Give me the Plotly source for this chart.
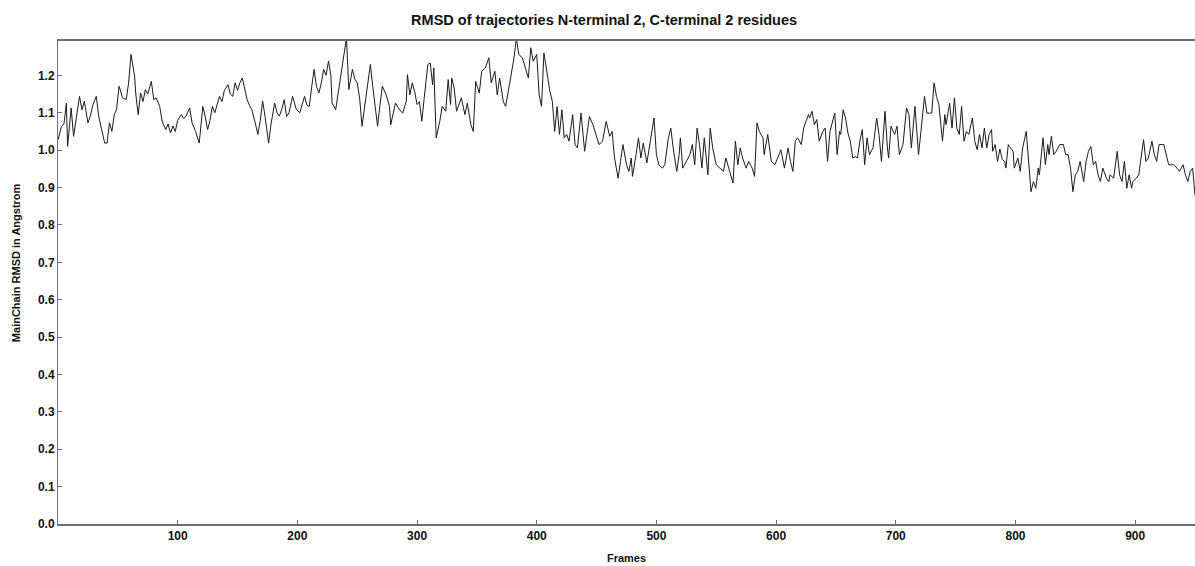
import plotly.graph_objects as go

# Main-chain RMSD per trajectory frame (Angstrom)
frames = [
    0, 2, 3, 5, 7, 8, 11, 13, 15, 18, 20, 22, 25, 27, 29, 32, 34, 37, 39, 41, 43, 45, 47, 49,
    51, 54, 57, 59, 61, 64, 65, 67, 69, 71, 73, 75, 78, 80, 82, 85, 87, 90, 92, 94, 96, 98,
    100, 103, 105, 107, 110, 112, 115, 118, 121, 123, 125, 127, 129, 131, 135, 137, 139, 142,
    144, 146, 148, 150, 152, 154, 156, 158, 160, 162, 165, 167, 169, 171, 173, 176, 178, 181,
    183, 185, 187, 189, 191, 193, 196, 199, 202, 204, 206, 208, 210, 212, 214, 216, 218, 220,
    222, 224, 226, 228, 229, 232, 235, 238, 241, 243, 246, 248, 250, 252, 254, 257, 259, 261,
    263, 265, 267, 269, 271, 274, 277, 278, 280, 282, 285, 288, 291, 292, 294, 296, 298, 300,
    302, 304, 306, 309, 311, 313, 314, 316, 319, 321, 324, 326, 328, 329, 331, 333, 337, 340,
    342, 345, 347, 349, 352, 354, 357, 360, 362, 365, 367, 369, 372, 374, 376, 379, 381, 383,
    385, 388, 391, 393, 395, 397, 400, 402, 404, 406, 408, 411, 413, 415, 417, 419, 421, 423,
    425, 427, 430, 432, 434, 437, 440, 442, 444, 447, 450, 452, 455, 458, 461, 463, 465, 468,
    470, 472, 475, 477, 479, 480, 483, 485, 487, 489, 492, 496, 498, 500, 502, 505, 507, 510,
    512, 514, 517, 519, 520, 522, 525, 528, 530, 532, 534, 536, 538, 540, 543, 545, 547, 550,
    553, 556, 558, 561, 564, 566, 568, 570, 572, 575, 577, 580, 582, 584, 586, 589, 590, 593,
    596, 599, 602, 604, 607, 610, 612, 614, 616, 618, 621, 623, 625, 627, 628, 630, 632, 634,
    636, 639, 641, 643, 645, 647, 649, 651, 653, 654, 656, 658, 660, 662, 664, 666, 668, 670,
    672, 674, 676, 678, 681, 684, 686, 688, 691, 693, 694, 696, 699, 701, 703, 706, 709, 711,
    713, 716, 719, 721, 724, 726, 730, 732, 734, 736, 739, 741, 742, 745, 747, 749, 751, 753,
    755, 757, 759, 761, 764, 766, 768, 770, 772, 774, 776, 778, 780, 781, 783, 785, 787, 789,
    791, 792, 794, 795, 798, 799, 802, 804, 806, 809, 810, 811, 813, 815, 817, 819, 820, 823,
    825, 827, 828, 830, 832, 834, 837, 840, 842, 844, 846, 848, 850, 852, 854, 857, 859, 861,
    863, 865, 867, 869, 871, 873, 876, 878, 879, 882, 885, 887, 889, 891, 893, 895, 897, 898,
    901, 903, 905, 907, 909, 911, 914, 916, 918, 920, 924, 926, 928, 930, 932, 935, 937, 940,
    942, 944, 946, 948, 950,
]

rmsd = [
    1.028, 1.050, 1.064, 1.070, 1.126, 1.010, 1.113, 1.037, 1.080, 1.144, 1.108, 1.131, 1.073,
    1.091, 1.120, 1.144, 1.091, 1.046, 1.019, 1.019, 1.073, 1.050, 1.095, 1.110, 1.171, 1.140,
    1.135, 1.180, 1.256, 1.198, 1.150, 1.095, 1.153, 1.130, 1.162, 1.150, 1.184, 1.135, 1.140,
    1.117, 1.077, 1.055, 1.070, 1.046, 1.065, 1.050, 1.080, 1.095, 1.085, 1.091, 1.113, 1.073,
    1.050, 1.019, 1.117, 1.090, 1.055, 1.080, 1.117, 1.100, 1.144, 1.130, 1.160, 1.175, 1.150,
    1.144, 1.180, 1.160, 1.180, 1.193, 1.160, 1.135, 1.120, 1.108, 1.070, 1.042, 1.080, 1.131,
    1.090, 1.019, 1.070, 1.126, 1.100, 1.091, 1.110, 1.135, 1.090, 1.100, 1.144, 1.110, 1.100,
    1.120, 1.144, 1.120, 1.117, 1.170, 1.216, 1.170, 1.153, 1.180, 1.216, 1.200, 1.238, 1.200,
    1.126, 1.108, 1.171, 1.229, 1.300, 1.162, 1.216, 1.190, 1.180, 1.140, 1.064, 1.135, 1.180,
    1.229, 1.170, 1.117, 1.064, 1.120, 1.171, 1.150, 1.117, 1.068, 1.100, 1.126, 1.110, 1.099,
    1.131, 1.202, 1.148, 1.180, 1.157, 1.122, 1.130, 1.077, 1.140, 1.229, 1.233, 1.175, 1.220,
    1.033, 1.077, 1.117, 1.104, 1.189, 1.122, 1.193, 1.166, 1.104, 1.140, 1.095, 1.126, 1.068,
    1.050, 1.184, 1.153, 1.211, 1.220, 1.247, 1.180, 1.211, 1.148, 1.193, 1.131, 1.117, 1.153,
    1.207, 1.247, 1.300, 1.256, 1.247, 1.211, 1.193, 1.274, 1.238, 1.256, 1.148, 1.117, 1.260,
    1.220, 1.157, 1.131, 1.050, 1.117, 1.042, 1.108, 1.033, 1.042, 1.024, 1.095, 1.015, 1.006,
    1.099, 0.997, 1.050, 1.090, 1.068, 1.033, 1.015, 1.024, 1.077, 1.037, 1.050, 0.979, 0.925,
    0.970, 1.015, 0.961, 0.943, 0.979, 0.930, 0.988, 1.033, 0.979, 1.019, 0.966, 1.050, 1.086,
    0.988, 0.961, 0.952, 0.961, 1.033, 1.059, 1.006, 0.943, 0.988, 1.033, 0.952, 0.970, 0.988,
    1.015, 0.961, 1.059, 1.015, 0.952, 1.033, 0.934, 1.059, 1.006, 0.961, 0.952, 0.943, 0.979,
    0.943, 0.912, 1.024, 0.961, 1.006, 0.979, 0.952, 0.970, 0.952, 0.930, 1.073, 1.050, 1.033,
    0.988, 1.042, 0.970, 0.961, 0.988, 1.001, 0.952, 1.006, 0.970, 0.943, 1.024, 1.033, 1.015,
    1.059, 1.077, 1.095, 1.086, 1.104, 1.068, 1.082, 1.024, 1.050, 1.059, 0.970, 1.050, 1.077,
    1.099, 0.988, 1.050, 1.042, 1.108, 1.086, 1.046, 1.024, 0.979, 0.983, 0.979, 1.024, 1.055,
    0.961, 1.033, 0.988, 1.006, 1.086, 1.042, 0.970, 1.104, 1.006, 0.979, 1.064, 1.042, 1.064,
    0.988, 1.015, 1.113, 1.095, 1.006, 1.117, 0.988, 1.050, 1.144, 1.099, 1.099, 1.180, 1.144,
    1.122, 1.024, 1.095, 1.068, 1.126, 1.059, 1.140, 1.059, 1.042, 1.117, 1.024, 1.050, 1.042,
    1.086, 1.024, 1.001, 1.042, 1.006, 1.059, 1.006, 1.042, 1.055, 0.997, 1.015, 0.970, 1.003,
    0.975, 0.970, 0.952, 1.015, 1.010, 0.997, 0.952, 0.979, 0.943, 1.006, 1.050, 1.010, 0.970,
    0.889, 0.916, 0.898, 0.952, 0.934, 1.033, 0.961, 1.015, 0.988, 1.037, 0.988, 0.997, 1.015,
    1.015, 0.988, 0.988, 0.952, 0.889, 0.934, 0.943, 0.970, 0.916, 0.970, 0.997, 1.010, 0.961,
    0.970, 0.934, 0.916, 0.952, 0.925, 0.916, 0.934, 0.925, 0.997, 0.934, 0.916, 0.970, 0.898,
    0.934, 0.898, 0.916, 0.925, 0.934, 0.988, 1.028, 0.970, 0.979, 1.024, 0.988, 0.970, 1.015,
    1.015, 0.988, 0.961, 0.961, 0.961, 0.952, 0.943, 0.961, 0.934, 0.916, 0.943, 0.952, 0.880,
]

x_ticks = [100, 200, 300, 400, 500, 600, 700, 800, 900]
y_ticks = [0.0, 0.1, 0.2, 0.3, 0.4, 0.5, 0.6, 0.7, 0.8, 0.9, 1.0, 1.1, 1.2]

FONT = "Liberation Sans, Arial, sans-serif"
AXIS_GREY = "#6e6e6e"
TEXT = "#111111"

fig = go.Figure(
    go.Scatter(
        x=frames,
        y=rmsd,
        mode="lines",
        line=dict(color="#1a1a1a", width=1),
        hoverinfo="x+y",
    )
)

fig.update_layout(
    width=1195,
    height=566,
    margin=dict(l=58, r=0, t=41, b=42),
    paper_bgcolor="white",
    plot_bgcolor="white",
    showlegend=False,
    title=dict(
        text="RMSD of trajectories N-terminal 2, C-terminal 2 residues",
        x=0.5055,
        xanchor="center",
        y=0.965,
        yanchor="middle",
        font=dict(family=FONT, size=14.5, color=TEXT, weight="bold"),
    ),
    annotations=[
        dict(
            text="MainChain RMSD in Angstrom",
            xref="paper",
            yref="paper",
            x=-0.037,
            y=0.542,
            xanchor="center",
            yanchor="middle",
            textangle=-90,
            showarrow=False,
            font=dict(family=FONT, size=11, color=TEXT, weight="bold"),
        )
    ],
)

fig.update_xaxes(
    range=[0, 950],
    tickvals=x_ticks,
    ticktext=[str(v) for v in x_ticks],
    ticks="inside",
    ticklen=4,
    tickcolor=AXIS_GREY,
    showline=True,
    linecolor=AXIS_GREY,
    linewidth=2,
    mirror=True,
    showgrid=False,
    zeroline=False,
    tickfont=dict(family=FONT, size=12, color=TEXT, weight="bold"),
    title=dict(
        text="Frames",
        standoff=12,
        font=dict(family=FONT, size=11, color=TEXT, weight="bold"),
    ),
)

fig.update_yaxes(
    range=[0, 1.292],
    tickvals=y_ticks,
    ticktext=[f"{v:.1f}" for v in y_ticks],
    ticks="inside",
    ticklen=4,
    tickcolor=AXIS_GREY,
    showline=True,
    linecolor=AXIS_GREY,
    linewidth=1,
    mirror=False,
    showgrid=False,
    zeroline=False,
    tickfont=dict(family=FONT, size=12, color=TEXT, weight="bold"),
)

fig.write_html("out.html")
